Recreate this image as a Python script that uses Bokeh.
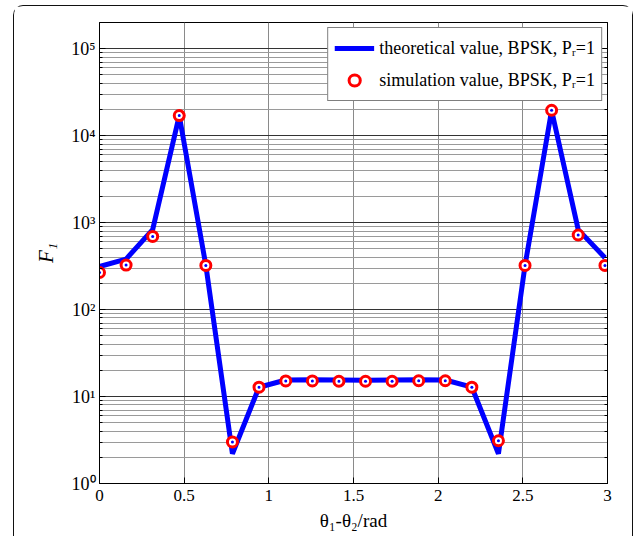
from bokeh.plotting import figure
from bokeh.models import Range1d, LogAxis, FixedTicker, Legend, LegendItem, ColumnDataSource
from bokeh.embed import file_html
from bokeh.resources import INLINE

# ---- data ----
theta_diff = [0.000, 0.157, 0.314, 0.471, 0.628, 0.785, 0.942, 1.100, 1.257, 1.414,
              1.571, 1.728, 1.885, 2.042, 2.199, 2.356, 2.513, 2.670, 2.827, 2.985]
theoretical = [313, 381, 830, 17000, 322, 2.2, 12.8, 15.5, 15.6, 15.5,
               15.4, 15.5, 15.6, 15.5, 12.8, 2.2, 322, 19500, 830, 395]
simulation = [267, 325, 693, 17000, 322, 3.0, 12.8, 15.1, 15.1, 15.0,
              15.0, 15.0, 15.2, 15.2, 12.8, 3.1, 322, 19600, 720, 322]

x_ticks = [0, 0.5, 1, 1.5, 2, 2.5, 3]
x_tick_labels = ["0", "0.5", "1", "1.5", "2", "2.5", "3"]
y_ticks = [1, 10, 100, 1000, 10000, 100000]
y_tick_labels = ["10\u2070", "10\u00b9", "10\u00b2", "10\u00b3", "10\u2074", "10\u2075"]

label_theory = "theoretical value, BPSK, P\u1d63=1"
label_sim = "simulation value, BPSK, P\u1d63=1"
x_label = "\u03b8\u2081-\u03b8\u2082/rad"
y_label = "F\u2081"

FONT = "Liberation Serif"

src = ColumnDataSource(dict(x=theta_diff, theory=theoretical, sim=simulation))

p = figure(width=620, height=531,
           x_range=Range1d(0, 3), y_range=Range1d(1, 2e5),
           y_axis_type="log",
           output_backend="svg", toolbar_location=None,
           min_border_left=85, min_border_right=27,
           min_border_top=16, min_border_bottom=54)

p.styles = {
    "border-top": "1px solid #111",
    "border-left": "1px solid #111",
    "border-right": "1px solid #111",
    "border-top-left-radius": "10px",
    "border-top-right-radius": "10px",
    "margin-left": "13px",
    "margin-top": "5px",
}

p.background_fill_color = "white"
p.border_fill_color = "white"
p.outline_line_color = "black"
p.outline_line_width = 1

# grids
p.xgrid.ticker = FixedTicker(ticks=x_ticks)
p.xgrid.grid_line_color = "#8a8a8a"
p.xgrid.grid_line_width = 1
p.ygrid.grid_line_color = "#333333"
p.ygrid.grid_line_width = 1
p.ygrid.minor_grid_line_color = "#9a9a9a"
p.ygrid.minor_grid_line_width = 1

# x axis
xax = p.xaxis[0]
xax.ticker = FixedTicker(ticks=x_ticks)
xax.major_label_overrides = dict(zip(x_ticks, x_tick_labels))
xax.axis_label = x_label
xax.axis_label_text_font = FONT
xax.axis_label_text_font_size = "19px"
xax.axis_label_text_font_style = "normal"
xax.axis_label_text_color = "black"
xax.axis_label_standoff = 6
xax.major_label_text_font = FONT
xax.major_label_text_font_size = "17px"
xax.major_label_text_color = "black"
xax.major_label_standoff = 6
xax.major_tick_in = 6
xax.major_tick_out = 0
xax.minor_tick_line_color = None
xax.axis_line_color = "black"

# y axis (left)
yax = p.left[0]
yax.major_label_overrides = dict(zip(y_ticks, y_tick_labels))
yax.axis_label = y_label
yax.axis_label_text_font = FONT
yax.axis_label_text_font_size = "21px"
yax.axis_label_text_font_style = "italic"
yax.axis_label_text_color = "black"
yax.axis_label_standoff = 10
yax.major_label_text_font = FONT
yax.major_label_text_font_size = "18px"
yax.major_label_text_color = "black"
yax.major_label_standoff = 4
yax.major_tick_in = 6
yax.major_tick_out = 0
yax.minor_tick_in = 3
yax.minor_tick_out = 0
yax.axis_line_color = "black"

# mirrored ticks on the right
rax = LogAxis(major_label_text_font_size="2px", major_label_text_color=None,
              major_tick_in=6, major_tick_out=0,
              minor_tick_in=3, minor_tick_out=0, major_label_standoff=0,
              axis_line_color="black")
p.add_layout(rax, "right")

# data
r_line = p.line("x", "theory", source=src, line_color="#0000ff", line_width=5)
r_sim = p.scatter("x", "sim", source=src, marker="circle", size=10,
                  line_color="#ff0000", line_width=3, fill_color="white")
p.scatter("x", "sim", source=src, marker="circle", size=3,
          line_color=None, fill_color="#0000ff")

legend = Legend(items=[LegendItem(label=label_theory, renderers=[r_line]),
                       LegendItem(label=label_sim, renderers=[r_sim])],
                location="top_right")
legend.margin = 5
legend.padding = 6
legend.spacing = 4
legend.glyph_width = 40
legend.glyph_height = 28
legend.label_height = 28
legend.label_standoff = 5
legend.label_text_font = FONT
legend.label_text_font_size = "18px"
legend.label_text_color = "black"
legend.border_line_color = "black"
legend.border_line_width = 1
legend.background_fill_color = "white"
legend.background_fill_alpha = 1
p.add_layout(legend)

open("out.html", "w").write(file_html(p, INLINE))
